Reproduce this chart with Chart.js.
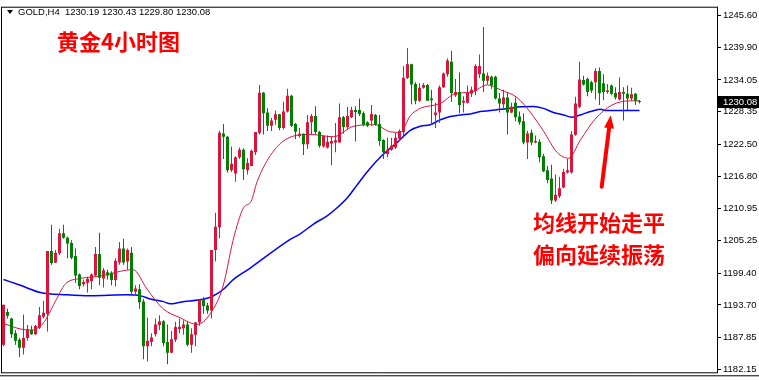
<!DOCTYPE html>
<html><head><meta charset="utf-8">
<script src="https://cdn.jsdelivr.net/npm/chart.js@4/dist/chart.umd.min.js"></script>
<style>html,body{margin:0;padding:0;background:#fff;}canvas{display:block;}</style>
</head><body>
<canvas id="c" width="759" height="380"></canvas>
<script>
// ---- data (GOLD H4) ----
const symbolLabel = "GOLD,H4";
const lastBar = {open: 1230.19, high: 1230.43, low: 1229.80, close: 1230.08};
const titleText = "黄金4小时图";
const noteLines = ["均线开始走平", "偏向延续振荡"];
const tickVals = [1245.60, 1239.90, 1234.05, 1228.35, 1222.50, 1216.80, 1210.95, 1205.25, 1199.40, 1193.70, 1187.85, 1182.15];

const opens = [
1186.58,1192.44,1191.26,1188.63,1187.46,1186.00,1187.76,1189.21,1188.46,1189.63,
1191.56,1192.14,1203.36,1201.31,1202.95,1206.56,1205.76,1204.81,1202.48,1199.15,
1197.40,1197.70,1197.98,1198.98,1202.83,1198.45,1199.55,1199.45,1198.15,1201.31,
1203.83,1201.48,1203.06,1196.05,1196.52,1194.30,1186.30,1187.06,1188.46,1190.09,
1190.79,1187.06,1185.13,1187.46,1189.39,1189.51,1190.21,1186.58,1188.34,1190.56,
1194.77,1193.59,1192.72,1203.53,1207.62,1224.44,1223.86,1217.85,1217.26,1220.18,
1221.54,1217.85,1218.61,1221.06,1224.57,1231.75,1228.20,1225.85,1226.90,1227.90,
1225.44,1228.37,1231.23,1226.14,1223.99,1224.39,1222.52,1226.44,1227.60,1224.69,
1222.11,1221.94,1222.64,1222.81,1222.81,1227.37,1225.62,1227.37,1228.65,1228.65,
1228.07,1226.44,1226.79,1227.77,1226.14,1223.29,1220.76,1221.54,1221.94,1223.51,
1224.65,1234.38,1236.84,1233.33,1230.30,1232.63,1233.16,1230.70,1227.77,1228.20,
1232.75,1235.08,1237.31,1231.28,1231.88,1229.95,1229.95,1231.58,1232.05,1235.08,
1235.21,1233.91,1234.61,1234.61,1230.70,1229.70,1230.88,1228.20,1229.95,1227.49,
1226.62,1222.81,1224.57,1222.81,1222.94,1220.36,1217.85,1216.38,1212.42,1213.17,
1214.75,1217.43,1217.43,1224.22,1229.25,1234.03,1234.21,1233.63,1233.63,1235.66,
1233.45,1231.88,1233.03,1231.70,1230.53,1231.88,1231.58,1230.70,1231.58,1230.19];
const highs = [
1193.72,1193.02,1191.38,1189.21,1187.76,1191.97,1190.09,1189.98,1190.09,1193.31,
1194.47,1203.36,1208.09,1203.53,1207.34,1208.09,1205.99,1205.28,1203.83,1199.33,
1198.27,1198.75,1199.33,1204.11,1206.63,1200.32,1200.02,1199.73,1202.08,1204.99,
1205.58,1203.83,1204.11,1197.22,1197.40,1194.77,1191.38,1188.63,1191.26,1191.84,
1190.96,1190.21,1189.04,1190.69,1191.26,1190.96,1190.69,1189.51,1190.69,1194.65,
1195.07,1194.07,1203.53,1210.25,1224.92,1226.14,1223.99,1222.11,1220.36,1221.94,
1221.76,1220.01,1221.54,1224.69,1233.15,1231.88,1228.95,1227.20,1228.55,1227.95,
1230.12,1232.45,1231.40,1226.32,1225.44,1224.44,1227.77,1227.95,1229.35,1224.87,
1224.09,1224.09,1223.86,1226.32,1229.83,1227.60,1229.25,1229.25,1229.35,1230.70,
1228.37,1226.62,1229.53,1227.95,1227.77,1223.39,1223.69,1223.69,1224.57,1225.14,
1236.54,1239.76,1236.96,1233.63,1233.45,1233.51,1233.33,1232.28,1229.95,1233.03,
1235.38,1237.89,1239.29,1234.21,1235.38,1231.10,1233.03,1232.86,1236.84,1238.59,
1243.55,1235.38,1234.79,1234.79,1231.70,1232.28,1231.88,1229.95,1230.88,1228.37,
1228.07,1224.87,1225.14,1224.09,1223.39,1220.76,1218.61,1218.83,1217.08,1216.68,
1218.13,1219.88,1224.87,1231.05,1237.31,1234.79,1234.50,1233.91,1236.14,1236.26,
1235.08,1233.33,1233.21,1232.75,1234.50,1232.75,1233.03,1232.63,1231.70,1230.43];
const lows = [
1186.30,1191.26,1187.76,1186.58,1184.37,1184.83,1187.28,1188.34,1188.34,1189.39,
1191.26,1188.93,1200.90,1201.20,1202.66,1205.58,1202.08,1201.90,1197.70,1196.52,
1196.99,1195.94,1196.52,1198.75,1197.22,1196.82,1198.27,1197.22,1196.99,1200.90,
1200.90,1200.02,1195.24,1195.35,1193.02,1183.95,1183.55,1186.30,1188.06,1189.21,
1186.30,1183.08,1185.13,1187.06,1188.63,1188.34,1186.30,1185.13,1186.30,1189.98,
1192.14,1192.14,1191.26,1201.48,1205.64,1219.88,1217.43,1217.55,1215.80,1219.88,
1216.10,1217.08,1218.61,1220.59,1224.27,1224.27,1224.87,1224.87,1226.02,1225.04,
1225.14,1228.20,1225.62,1223.39,1223.69,1220.59,1221.64,1224.27,1224.27,1221.94,
1221.94,1221.76,1218.73,1221.06,1222.81,1224.44,1225.14,1227.20,1222.99,1227.60,
1225.74,1225.62,1225.85,1225.85,1222.24,1219.88,1220.18,1221.36,1221.64,1223.11,
1223.69,1234.21,1229.70,1229.70,1230.12,1232.45,1230.30,1226.02,1225.44,1226.32,
1232.63,1234.61,1230.12,1231.00,1228.07,1228.20,1229.83,1231.00,1231.28,1234.38,
1231.88,1233.21,1232.45,1230.53,1228.20,1228.95,1224.27,1228.07,1226.62,1226.02,
1222.52,1219.88,1222.34,1222.69,1219.30,1217.55,1215.50,1211.82,1212.17,1212.88,
1214.63,1217.26,1217.26,1224.04,1228.95,1233.03,1231.10,1231.70,1230.53,1229.53,
1230.40,1231.58,1231.28,1230.53,1230.40,1226.79,1228.65,1230.30,1229.53,1229.80];
const closes = [
1193.72,1191.74,1188.46,1187.28,1186.00,1187.76,1189.34,1188.46,1189.91,1191.84,
1192.32,1203.36,1201.20,1203.06,1206.56,1205.76,1204.70,1202.18,1198.98,1197.10,
1197.80,1198.40,1199.15,1202.83,1198.57,1199.90,1198.98,1198.15,1201.61,1203.83,
1201.31,1203.53,1196.05,1196.64,1194.19,1186.30,1187.28,1187.88,1190.21,1190.79,
1186.88,1185.13,1187.53,1189.74,1189.81,1190.21,1186.58,1188.46,1190.56,1194.65,
1193.49,1192.72,1203.53,1207.74,1224.57,1223.86,1217.85,1219.01,1220.18,1221.54,
1218.03,1219.13,1221.36,1224.69,1231.75,1228.07,1225.85,1226.79,1227.90,1225.44,
1228.37,1231.23,1225.85,1224.74,1224.39,1222.52,1226.44,1227.60,1224.69,1222.24,
1223.99,1222.94,1223.11,1223.22,1227.37,1225.62,1227.60,1228.65,1228.30,1227.95,
1226.02,1225.85,1227.95,1226.02,1223.11,1221.06,1221.54,1222.24,1223.69,1224.87,
1234.44,1236.84,1233.21,1230.30,1232.63,1233.16,1230.30,1230.40,1228.20,1232.75,
1235.21,1237.54,1231.70,1231.88,1229.53,1230.30,1231.70,1232.28,1236.54,1236.54,
1233.91,1234.79,1233.03,1230.70,1229.83,1230.88,1228.20,1229.25,1227.37,1226.44,
1222.81,1224.44,1222.81,1223.11,1220.18,1217.68,1216.10,1212.42,1213.47,1214.63,
1217.55,1217.85,1224.27,1229.83,1234.12,1233.21,1231.88,1232.16,1235.66,1231.70,
1231.88,1232.16,1231.58,1230.88,1231.88,1231.58,1230.70,1231.46,1230.30,1230.08];

// moving averages (bar index, price)
const maFastIdx = [0,4.2,6.7,9.9,12.9,15.4,19.2,24.2,29.2,32.4,35.9,39.9,44.2,48.4,51.7,54.9,57.4,60,61.9,63.4,66.7,70.9,76.7,82.5,87.5,92.9,96.7,99.2,101.7,104.2,109.2,112.9,117.1,120.9,124.2,128.4,131.7,135,138.4,141.3,144.2,147.9,152.1,156.7,159];
const maFastVal = [1190.39,1189.39,1189.21,1190.39,1194.24,1197.40,1198.45,1198.85,1199.73,1200.03,1196.52,1193.02,1191.38,1190.21,1192.14,1197.10,1205.29,1211.12,1212.30,1215.80,1220.48,1223.52,1224.27,1223.86,1225.74,1226.02,1224.74,1224.65,1227.63,1228.95,1229.83,1231.58,1231.88,1233.16,1232.28,1230.88,1228.25,1224.87,1221.06,1220.01,1223.25,1227.02,1229.53,1230.30,1230.30];
const maSlowIdx = [0,4.2,9.2,15.9,21.7,30.9,34.2,36.7,40,41.7,44.2,50.9,52.5,55,57.5,61.7,71.3,74.2,77.5,80.9,83.4,85.9,88.4,90.9,93.4,95.9,98.4,101.7,104.2,106.7,109.2,111.7,114.2,116.7,119.2,121.7,124.2,126.7,129.2,132.5,135,137.5,140,142.1,144.2,146.7,149.2,150.8,159];
const maSlowVal = [1198.27,1197.22,1195.94,1195.52,1195.35,1195.52,1195.35,1194.77,1194.29,1193.89,1194.19,1194.89,1195.35,1196.52,1198.27,1200.32,1205.28,1206.46,1208.21,1209.67,1211.12,1212.88,1215.22,1217.55,1219.60,1221.36,1222.81,1225.00,1225.74,1226.02,1226.90,1227.49,1227.77,1227.95,1228.37,1228.55,1228.77,1228.95,1229.25,1229.30,1228.95,1228.20,1227.77,1227.37,1227.77,1228.37,1228.77,1228.55,1228.55];

// ---- styles ----
const UP = '#DC143C', DOWN = '#008000';
const isUp = closes.map((c, i) => c >= opens[i]);
const candleColors = isUp.map(u => u ? UP : DOWN);
const wickData = highs.map((h, i) => ({x: i, y: [lows[i], h]}));
const bodyData = opens.map((o, i) => ({x: i, y: [Math.min(o, closes[i]), Math.max(o, closes[i])]}));
const fastData = maFastIdx.map((x, i) => ({x, y: maFastVal[i]}));
const slowData = maSlowIdx.map((x, i) => ({x, y: maSlowVal[i]}));

const axisFont = "'Liberation Sans',Arial,sans-serif";
const cjkFont = "'Noto Sans CJK SC','Noto Sans CJK TC',sans-serif";

const overlay = {
  id: 'overlay',
  afterDraw(chart) {
    const ctx = chart.ctx, a = chart.chartArea, xs = chart.scales.x, ys = chart.scales.y;
    ctx.save();
    // frame
    ctx.strokeStyle = '#000'; ctx.lineWidth = 1;
    ctx.strokeRect(a.left - 0.5, a.top - 0.5, a.right - a.left + 1, a.bottom - a.top + 1);
    ctx.beginPath(); ctx.moveTo(0, a.bottom + 3.5); ctx.lineTo(chart.width, a.bottom + 3.5); ctx.stroke();
    // header
    ctx.fillStyle = '#000';
    ctx.beginPath(); ctx.moveTo(7, 10); ctx.lineTo(13, 10); ctx.lineTo(10, 14); ctx.closePath(); ctx.fill();
    ctx.font = "9.5px " + axisFont; ctx.textBaseline = 'middle'; ctx.textAlign = 'left';
    const hdr = symbolLabel + "  " + [lastBar.open, lastBar.high, lastBar.low, lastBar.close].map(v => v.toFixed(2)).join(' ');
    ctx.fillText(hdr, 18, 12);
    // title + notes
    ctx.fillStyle = '#FF0000';
    ctx.font = "bold 22px " + cjkFont;
    ctx.fillText(titleText, 57, 42);
    ctx.fillText(noteLines[0], 533, 223);
    ctx.fillText(noteLines[1], 533, 255);
    // arrow
    const x0 = xs.getPixelForValue(149.55), y0 = ys.getPixelForValue(1214.9);
    const x1 = xs.getPixelForValue(151.8), y1 = ys.getPixelForValue(1227.7);
    const ang = Math.atan2(y1 - y0, x1 - x0);
    const hl = 13, hw = 5;
    const bx = x1 - hl * Math.cos(ang), by = y1 - hl * Math.sin(ang);
    ctx.strokeStyle = '#FF0000'; ctx.lineWidth = 4; ctx.lineCap = 'round';
    ctx.beginPath(); ctx.moveTo(x0, y0); ctx.lineTo(bx, by); ctx.stroke();
    ctx.beginPath();
    ctx.moveTo(x1, y1);
    ctx.lineTo(bx + hw * Math.sin(ang), by - hw * Math.cos(ang));
    ctx.lineTo(bx - hw * Math.sin(ang), by + hw * Math.cos(ang));
    ctx.closePath(); ctx.fillStyle = '#FF0000'; ctx.fill();
    // last price label
    const yl = Math.round(ys.getPixelForValue(lastBar.close));
    ctx.fillStyle = '#000'; ctx.fillRect(a.right + 1, yl - 6, chart.width - a.right - 1, 12);
    ctx.fillStyle = '#fff'; ctx.font = "9.5px " + axisFont; ctx.textBaseline = 'middle';
    ctx.fillText(lastBar.close.toFixed(2), a.right + 6, yl);
    ctx.restore();
  }
};

new Chart(document.getElementById('c'), {
  type: 'bar',
  data: {
    datasets: [
      {type: 'line', data: slowData, borderColor: '#0000FF', borderWidth: 1.5, pointRadius: 0, cubicInterpolationMode: 'monotone', order: 3},
      {type: 'line', data: fastData, borderColor: UP, borderWidth: 1, pointRadius: 0, cubicInterpolationMode: 'monotone', order: 2},
      {data: bodyData, backgroundColor: candleColors, barThickness: 3, grouped: false, minBarLength: 1, inflateAmount: 0, borderWidth: 0, order: 0},
      {data: wickData, backgroundColor: candleColors, barThickness: 1, grouped: false, inflateAmount: 0, borderWidth: 0, order: 1}
    ]
  },
  options: {
    responsive: false, animation: false, devicePixelRatio: 1,
    layout: {padding: {left: 2, top: 2, right: 0, bottom: 5}},
    plugins: {legend: {display: false}, tooltip: {enabled: false}},
    scales: {
      x: {type: 'linear', min: -0.375, max: 178.375, display: false, offset: false},
      y: {
        position: 'right', min: 1181.62, max: 1247.0,
        afterBuildTicks: s => { s.ticks = tickVals.map(v => ({value: v})); },
        afterFit: s => { s.width = 42; },
        ticks: {callback: v => Number(v).toFixed(2), color: '#000', padding: 2, autoSkip: false, maxRotation: 0, font: {family: axisFont, size: 9.5}},
        grid: {drawOnChartArea: false, drawTicks: true, tickLength: 4, color: '#000'},
        border: {display: true, color: '#000'}
      }
    }
  },
  plugins: [overlay]
});
</script>
</body></html>
